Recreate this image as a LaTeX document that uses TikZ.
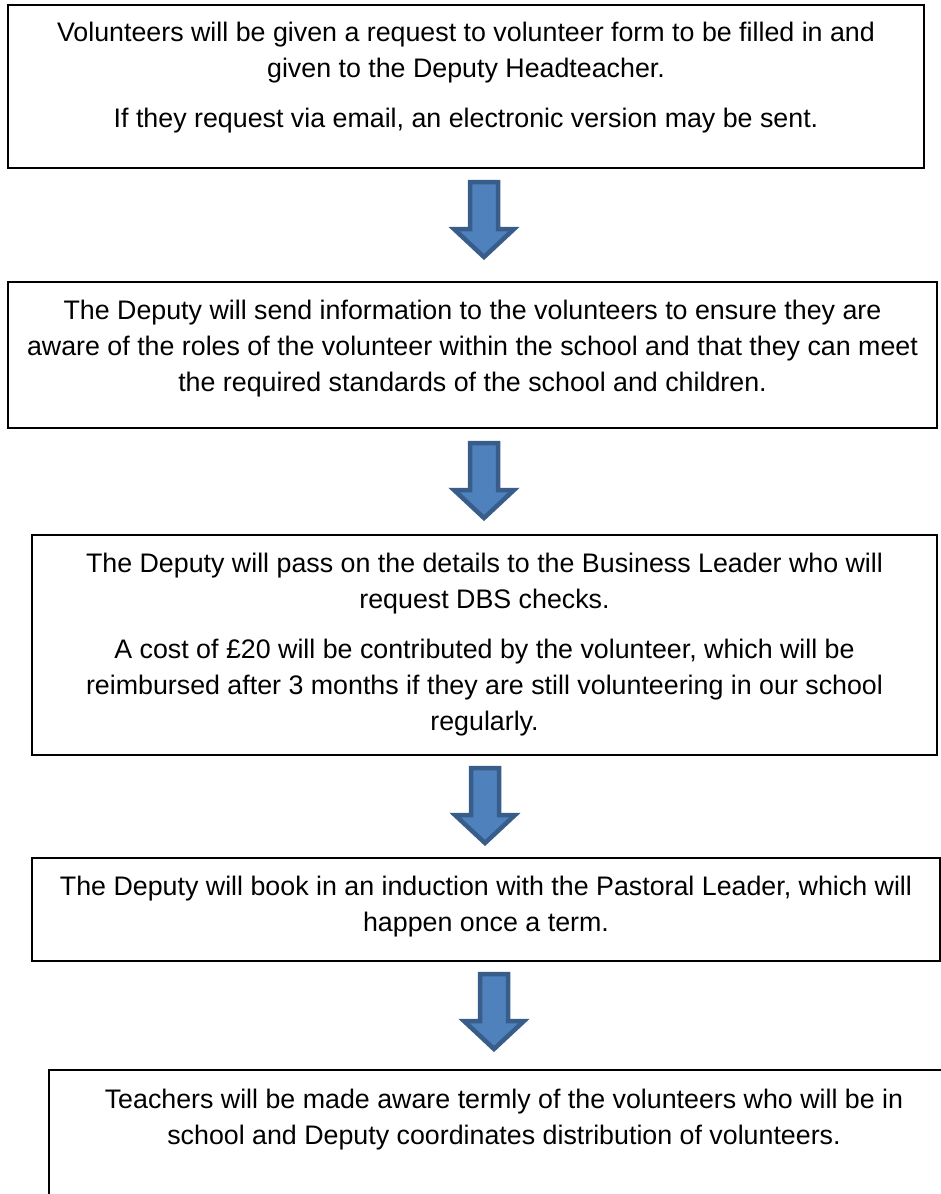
\documentclass[tikz,border=0pt]{standalone}
\usepackage{fontspec}
\setmainfont{Liberation Sans}
\usetikzlibrary{positioning}
\definecolor{arrowfill}{HTML}{4F81BD}
\definecolor{arrowedge}{HTML}{385D8A}

\begin{document}
\begin{tikzpicture}[
  x=1pt, y=-1pt,
  stepbox/.style={
    rectangle,
    draw=black,
    line width=1.6pt,
    outer sep=0pt,
    anchor=north west
  },
  steptext/.style={
    anchor=north, inner sep=0pt, align=center,
    font=\fontsize{26.8pt}{36pt}\selectfont
  },
  arrowshape/.style={fill=arrowfill, draw=arrowedge, line width=4.5pt},
  downarrow/.pic={
    \draw[arrowshape] (-14,0) -- (14,0) -- (14,47) -- (30,47)
      -- (0,75) -- (-30,47) -- (-14,47) -- cycle;
  }
]
\useasboundingbox (0,0) rectangle (941,1194);
\clip (0,0) rectangle (941,1194);

% the boxes
\node (b1) [stepbox, minimum width=916pt, minimum height=163pt] at (8,5) {};
\node (b2) [stepbox, minimum width=929pt, minimum height=146pt] at (8,282) {};
\node (b3) [stepbox, minimum width=905pt, minimum height=220pt] at (32,535) {};
\node (b4) [stepbox, minimum width=908pt, minimum height=103pt] at (32,858) {};
\node (b5) [stepbox, minimum width=910pt, minimum height=160pt] at (49,1070) {};

% the texts
\node (t1) [steptext, below=16.5pt of b1.north]
  {Volunteers will be given a request to volunteer form to be filled in and\\
   given to the Deputy Headteacher.\\[14pt]
   If they request via email, an electronic version may be sent.};
\node (t2) [steptext, below=17.5pt of b2.north]
  {The Deputy will send information to the volunteers to ensure they are\\
   aware of the roles of the volunteer within the school and that they can meet\\
   the required standards of the school and children.};
\node (t3) [steptext, below=17.5pt of b3.north]
  {The Deputy will pass on the details to the Business Leader who will\\
   request DBS checks.\\[14pt]
   A cost of £20 will be contributed by the volunteer, which will be\\
   reimbursed after 3 months if they are still volunteering in our school\\
   regularly.};
\node (t4) [steptext, below=17.5pt of b4.north]
  {The Deputy will book in an induction with the Pastoral Leader, which will\\
   happen once a term.};
\node (t5) [steptext, below=18.5pt of b5.north]
  {Teachers will be made aware termly of the volunteers who will be in\\
   school and Deputy coordinates distribution of volunteers.};

% block arrows between the boxes
\path (b1.south) ++(18,14) coordinate (a1);
\path (b2.south) ++(11.5,15) coordinate (a2);
\path (b3.south) ++(0.5,13) coordinate (a3);
\path (b4.south) ++(8,13) coordinate (a4);
\pic at (a1) {downarrow};
\pic at (a2) {downarrow};
\pic at (a3) {downarrow};
\pic at (a4) {downarrow};
\end{tikzpicture}
\end{document}
